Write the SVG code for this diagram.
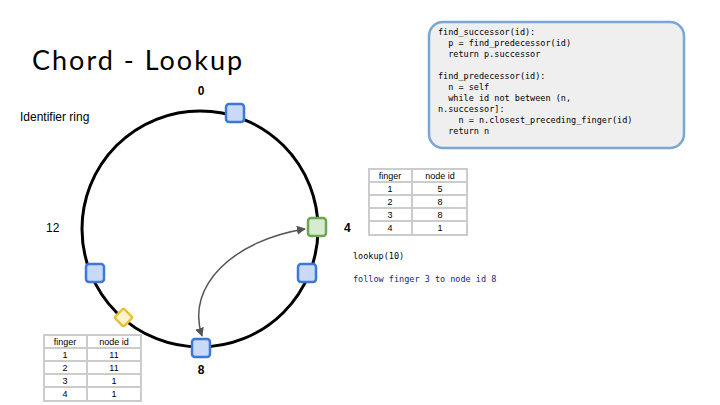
<svg xmlns="http://www.w3.org/2000/svg" width="720" height="405" viewBox="0 0 720 405">
<style>
.n{fill:#c9daf8;stroke:#3c78d8;stroke-width:2.5}
.lbl{font-family:"Liberation Sans",Arial,sans-serif;font-size:12px;fill:#000}
.big{font-family:"Liberation Sans",Arial,sans-serif;font-size:12px;font-weight:bold;fill:#000}
.code{font-family:"DejaVu Sans Mono",monospace;font-size:8.5px;fill:#000}
.t{font-family:"Liberation Sans",Arial,sans-serif;font-size:9px;fill:#000;text-anchor:middle}
</style>
<defs>
<marker id="ah" viewBox="0 0 10 10" refX="9" refY="5" markerWidth="6" markerHeight="6" orient="auto-start-reverse"><path d="M0,0L10,5L0,10z" fill="#555"/></marker>
</defs>
<rect width="720" height="405" fill="#fff"/>
<text x="32" y="70" font-family="Lato,'Open Sans',sans-serif" font-size="27" letter-spacing="2" fill="#000">Chord - Lookup</text>
<text x="20" y="121" class="lbl">Identifier ring</text>
<circle cx="200" cy="229" r="118" fill="none" stroke="#000" stroke-width="3"/>
<g id="labels">
<text x="201" y="95" class="big" text-anchor="middle">0</text>
<text x="344" y="232" class="big">4</text>
<text x="201" y="374" class="big" text-anchor="middle">8</text>
<text x="46" y="232" class="lbl">12</text>
</g>
<g id="connectors">
<path d="M305,229 C235,240 185,285 202,336" fill="none" stroke="#555" stroke-width="1.5" marker-start="url(#ah)" marker-end="url(#ah)"/>
</g>
<g id="node0"><rect x="226" y="104" width="18" height="18" rx="3" class="n"/></g>
<g id="node4"><rect x="308" y="218" width="18" height="18" rx="3" fill="#d9ead3" stroke="#6aa84f" stroke-width="2.5"/></g>
<g id="node5"><rect x="298" y="264" width="18" height="18" rx="3" class="n"/></g>
<g id="node8"><rect x="192" y="339" width="18" height="18" rx="3" class="n"/></g>
<g id="node11"><rect x="86" y="264" width="18" height="18" rx="3" class="n"/></g>
<g id="key10"><rect x="117" y="311" width="13" height="13" rx="2" fill="#fff2cc" stroke="#e6c140" stroke-width="2.5" transform="rotate(45 123.5 317.5)"/></g>
<g id="code">
<rect x="429" y="22" width="255" height="126" rx="14" fill="#efefef" stroke="#7aa6d6" stroke-width="2.5"/>
<text class="code" xml:space="preserve"><tspan x="438" y="35">find_successor(id):</tspan><tspan x="438" y="46">  p = find_predecessor(id)</tspan><tspan x="438" y="57">  return p.successor</tspan><tspan x="438" y="79">find_predecessor(id):</tspan><tspan x="438" y="90">  n = self</tspan><tspan x="438" y="101">  while id not between (n,</tspan><tspan x="438" y="112">n.successor]:</tspan><tspan x="438" y="123">    n = n.closest_preceding_finger(id)</tspan><tspan x="438" y="134">  return n</tspan></text>
</g>
<g id="table4">
<rect x="369" y="169" width="98" height="66" fill="#fff" stroke="#ccc" stroke-width="2"/>
<path d="M412,169V235M369,182H467M369,195H467M369,208H467M369,221H467" stroke="#ccc" stroke-width="2"/>
<text class="t" x="390" y="179">finger</text><text class="t" x="440" y="179">node id</text>
<text class="t" x="390" y="192">1</text><text class="t" x="440" y="192">5</text>
<text class="t" x="390" y="205">2</text><text class="t" x="440" y="205">8</text>
<text class="t" x="390" y="218">3</text><text class="t" x="440" y="218">8</text>
<text class="t" x="390" y="231">4</text><text class="t" x="440" y="231">1</text>
</g>
<g id="table8">
<rect x="44" y="335" width="97" height="66" fill="#fff" stroke="#ccc" stroke-width="2"/>
<path d="M87,335V401M44,348H141M44,361H141M44,374H141M44,387H141" stroke="#ccc" stroke-width="2"/>
<text class="t" x="65" y="345">finger</text><text class="t" x="114" y="345">node id</text>
<text class="t" x="65" y="358">1</text><text class="t" x="114" y="358">11</text>
<text class="t" x="65" y="371">2</text><text class="t" x="114" y="371">11</text>
<text class="t" x="65" y="384">3</text><text class="t" x="114" y="384">1</text>
<text class="t" x="65" y="397">4</text><text class="t" x="114" y="397">1</text>
</g>
<text x="353" y="259" class="code">lookup(10)</text>
<text x="353" y="282" class="code" style="fill:#1a1a8c">follow finger 3 to node id 8</text>
</svg>
